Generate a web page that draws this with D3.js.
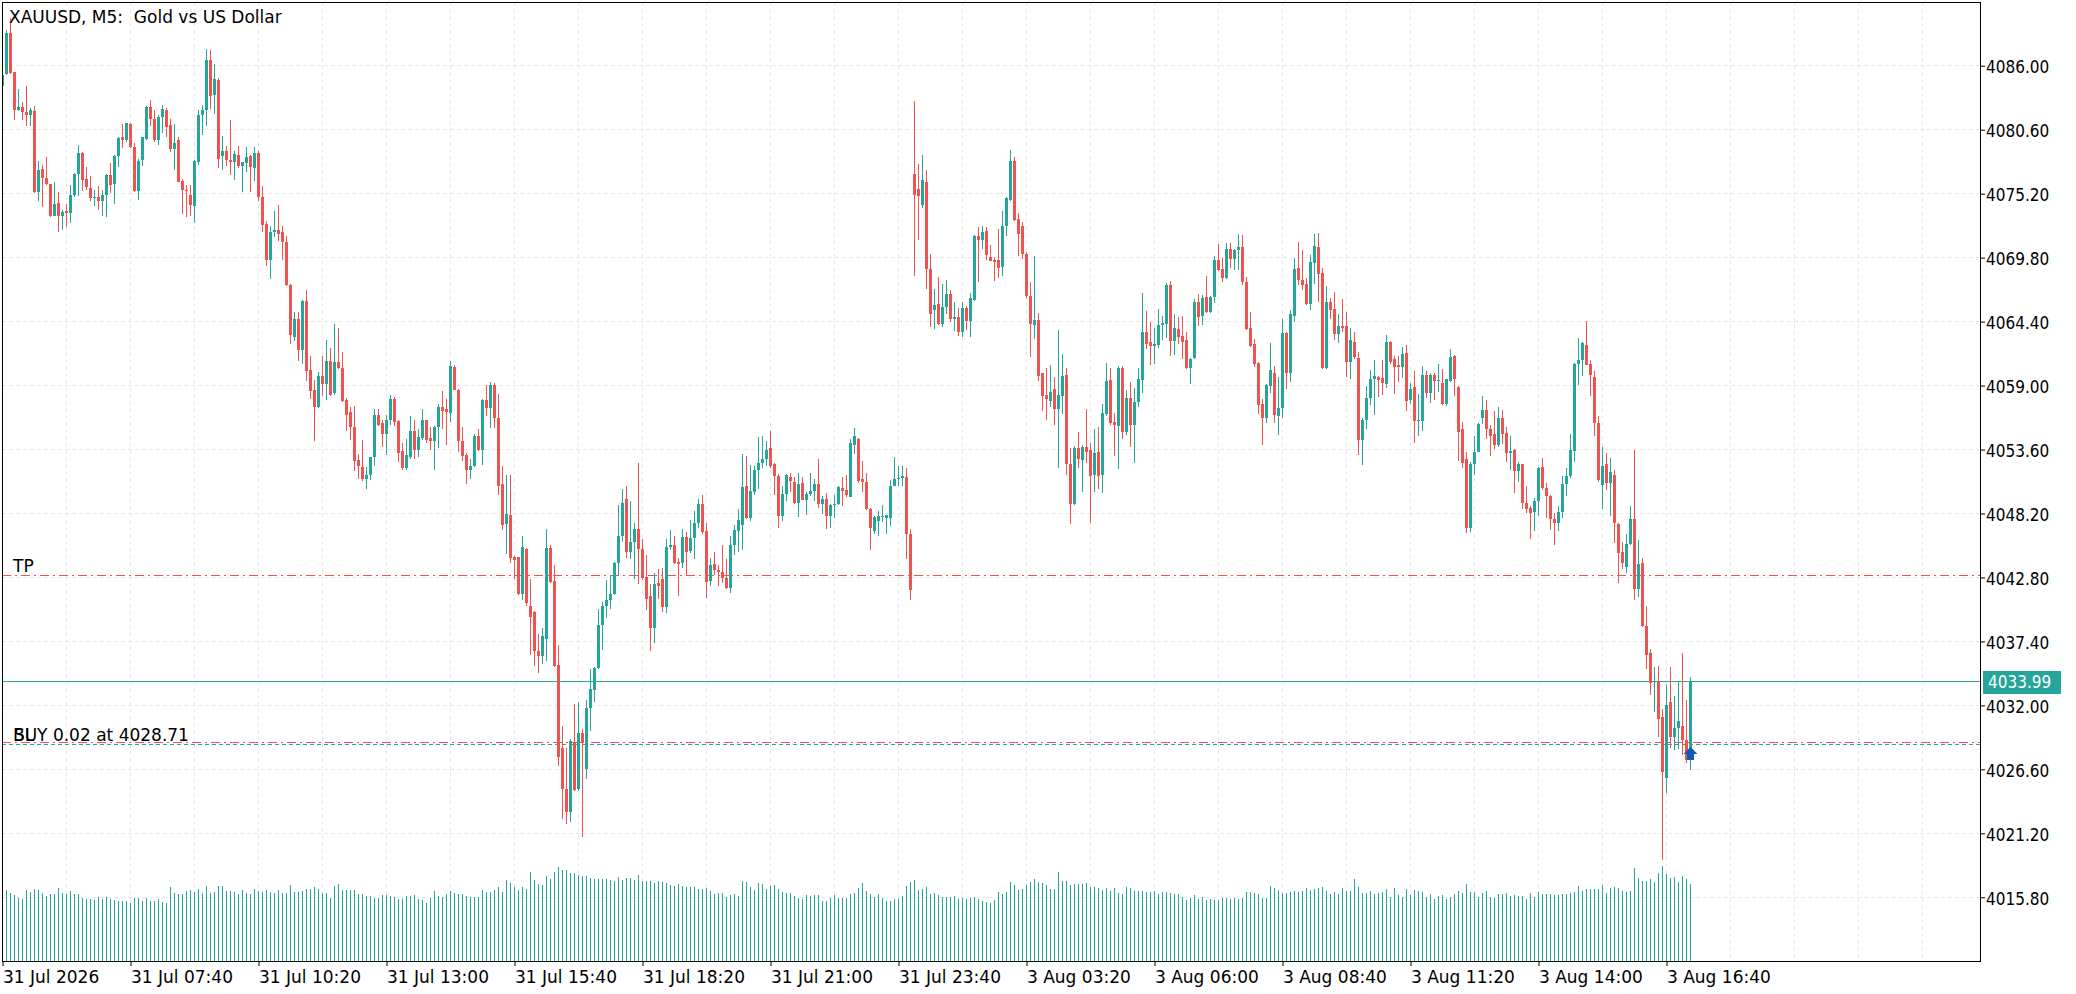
<!DOCTYPE html>
<html>
<head>
<meta charset="utf-8">
<title>XAUUSD M5</title>
<script src="https://cdn.jsdelivr.net/npm/d3@7"></script>
<style>
  html, body { margin: 0; padding: 0; background: #fff; }
  svg { display: block; }
  text { font-family: "DejaVu Sans", sans-serif; font-size: 17px; fill: #000; }
</style>
</head>
<body>
<div id="chart"></div>
<script>
// chart header + levels
const title = "XAUUSD, M5:  Gold vs US Dollar";
const bidPrice = 4033.99;
const tpPrice = 4042.95;
const slPrice = 4028.8;
const openPrice = 4028.71;
const orderLabel = "BUY 0.02 at 4028.71";

// axis labels
const priceTicks = [4015.8, 4021.2, 4026.6, 4032.0, 4037.4, 4042.8, 4048.2, 4053.6, 4059.0, 4064.4, 4069.8, 4075.2, 4080.6, 4086.0];
const timeTickBars = [0, 32, 64, 96, 128, 160, 192, 224, 256, 288, 320, 352, 384, 416];
const timeLabels = ["31 Jul 2026", "31 Jul 07:40", "31 Jul 10:20", "31 Jul 13:00", "31 Jul 15:40", "31 Jul 18:20",
  "31 Jul 21:00", "31 Jul 23:40", "3 Aug 03:20", "3 Aug 06:00", "3 Aug 08:40", "3 Aug 11:20", "3 Aug 14:00", "3 Aug 16:40"];

// M5 bars, oldest first
const opens = [
  4084.3, 4085.3, 4088.76, 4085.44, 4082.29, 4082.48, 4082.1, 4081.87, 4082.2, 4075.31,
  4077.3, 4076.5, 4076.0, 4073.34, 4074.4, 4073.3, 4073.7, 4073.55, 4075.1, 4076.9,
  4078.66, 4076.4, 4075.7, 4074.86, 4074.9, 4074.55, 4075.1, 4076.75, 4076.0, 4078.4,
  4079.95, 4079.7, 4081.1, 4079.1, 4075.4, 4078.0, 4079.8, 4082.5, 4081.5, 4079.76,
  4081.67, 4082.3, 4081.0, 4079.0, 4079.76, 4076.3, 4075.5, 4075.1, 4074.2, 4077.9,
  4081.87, 4082.3, 4086.5, 4083.5, 4084.8, 4078.4, 4078.83, 4078.0, 4077.84, 4078.5,
  4077.5, 4077.8, 4078.4, 4077.4, 4078.6, 4074.9, 4072.6, 4069.57, 4071.94, 4072.1,
  4071.97, 4071.1, 4067.52, 4063.1, 4064.65, 4062.04, 4066.1, 4060.3, 4058.6, 4057.17,
  4059.8, 4059.17, 4061.1, 4058.4, 4061.0, 4060.5, 4057.8, 4056.8, 4055.5, 4052.7,
  4052.1, 4051.07, 4051.41, 4052.98, 4056.55, 4055.8, 4054.9, 4056.13, 4057.9, 4056.0,
  4053.5, 4052.0, 4053.0, 4055.15, 4053.6, 4054.6, 4056.05, 4054.6, 4054.36, 4055.5,
  4057.17, 4057.06, 4056.7, 4060.6, 4058.66, 4054.36, 4053.1, 4051.91, 4052.2, 4054.78,
  4053.6, 4057.8, 4057.1, 4059.08, 4056.27, 4050.7, 4047.3, 4048.1, 4044.5, 4044.5,
  4041.37, 4045.2, 4040.4, 4039.9, 4036.6, 4036.16, 4037.6, 4045.3, 4042.5, 4035.4,
  4028.4, 4024.9, 4023.03, 4028.8, 4024.9, 4029.7, 4026.66, 4031.8, 4033.3, 4035.18,
  4038.75, 4040.38, 4040.9, 4041.37, 4044.0, 4046.29, 4049.4, 4044.94, 4045.8, 4046.93,
  4045.2, 4042.8, 4041.2, 4038.55, 4042.3, 4042.7, 4040.3, 4045.4, 4045.5, 4044.1,
  4043.98, 4046.2, 4045.0, 4046.09, 4047.36, 4049.04, 4046.7, 4042.5, 4043.9, 4043.42,
  4043.3, 4042.77, 4041.87, 4045.5, 4046.7, 4047.2, 4050.56, 4047.8, 4050.0, 4051.91,
  4052.42, 4052.76, 4053.74, 4052.4, 4051.4, 4048.0, 4049.86, 4051.3, 4050.9, 4049.1,
  4050.8, 4049.38, 4049.86, 4050.14, 4050.73, 4048.96, 4049.44, 4047.98, 4048.88, 4049.0,
  4050.31, 4050.2, 4049.6, 4054.0, 4054.53, 4051.07, 4050.87, 4048.6, 4046.7, 4047.6,
  4047.9, 4047.8, 4047.8, 4050.56, 4051.07, 4051.21, 4051.3, 4046.5, 4076.89, 4075.62,
  4074.22, 4076.18, 4068.87, 4065.4, 4065.9, 4064.23, 4065.6, 4066.7, 4064.65, 4064.8,
  4063.5, 4065.55, 4064.43, 4066.26, 4071.66, 4071.26, 4072.08, 4069.86, 4069.63, 4069.63,
  4068.97, 4072.5, 4074.7, 4077.98, 4073.1, 4072.44, 4070.14, 4066.6, 4064.1, 4064.51,
  4060.04, 4058.18, 4057.71, 4058.69, 4057.0, 4058.13, 4059.88, 4052.4, 4049.0, 4053.69,
  4052.7, 4053.83, 4053.55, 4051.43, 4053.4, 4051.43, 4056.58, 4059.45, 4055.93, 4055.6,
  4060.46, 4055.09, 4057.99, 4055.65, 4057.57, 4059.48, 4063.56, 4062.69, 4062.35, 4062.4,
  4064.09, 4064.2, 4067.49, 4062.77, 4063.76, 4063.19, 4062.83, 4060.46, 4061.31, 4066.06,
  4064.88, 4066.48, 4065.24, 4066.48, 4069.57, 4068.82, 4068.06, 4070.5, 4069.66, 4070.42,
  4070.67, 4067.77, 4063.84, 4062.49, 4060.88, 4057.43, 4056.3, 4059.0, 4060.1, 4056.44,
  4057.09, 4063.42, 4060.04, 4064.88, 4068.9, 4067.88, 4067.55, 4065.86, 4069.38, 4070.7,
  4068.48, 4060.46, 4066.06, 4065.44, 4063.33, 4064.04, 4064.0, 4061.0, 4062.71, 4061.31,
  4054.42, 4056.08, 4057.99, 4059.59, 4059.76, 4059.62, 4059.17, 4062.71, 4061.23, 4060.71,
  4060.56, 4061.79, 4057.79, 4058.86, 4056.0, 4056.0, 4059.88, 4058.4, 4059.85, 4059.39,
  4059.23, 4057.48, 4059.39, 4061.48, 4058.86, 4055.33, 4052.78, 4046.96, 4052.41, 4053.42,
  4056.25, 4056.93, 4055.33, 4054.87, 4053.95, 4056.25, 4054.96, 4053.33, 4053.54, 4051.79,
  4052.35, 4049.12, 4048.66, 4048.32, 4049.24, 4052.1, 4050.35, 4049.7, 4047.7, 4047.4,
  4048.35, 4050.72, 4051.33, 4053.48, 4060.86, 4061.17, 4062.46, 4060.8, 4059.73, 4055.88,
  4050.62, 4052.35, 4050.78, 4051.48, 4047.34, 4044.93, 4043.64, 4045.64, 4047.7, 4041.8,
  4044.04, 4038.72, 4036.42, 4033.95, 4033.95, 4031.04, 4025.9, 4032.32, 4029.35, 4030.11,
  4030.27, 4029.1, 4027.35
];
const highs = [
  4085.5, 4089.04, 4090.0, 4085.5, 4084.06, 4082.9, 4084.26, 4082.4, 4082.57, 4077.93,
  4077.59, 4078.27, 4076.0, 4076.21, 4075.37, 4073.85, 4074.35, 4075.96, 4076.97, 4079.33,
  4078.7, 4077.48, 4076.66, 4075.5, 4075.88, 4075.5, 4076.9, 4077.79, 4078.5, 4080.0,
  4081.08, 4081.2, 4081.2, 4079.47, 4078.1, 4080.0, 4082.6, 4083.13, 4082.29, 4081.8,
  4082.71, 4082.4, 4081.53, 4081.08, 4080.0, 4076.4, 4075.93, 4075.96, 4078.0, 4082.29,
  4082.71, 4087.43, 4087.35, 4086.17, 4084.95, 4080.04, 4079.19, 4081.44, 4078.77, 4079.19,
  4077.9, 4079.11, 4078.5, 4079.11, 4078.8, 4075.88, 4072.87, 4072.44, 4073.71, 4074.27,
  4072.44, 4071.66, 4067.6, 4065.22, 4065.22, 4066.26, 4067.1, 4061.53, 4059.43, 4060.15,
  4061.53, 4062.88, 4062.18, 4064.23, 4063.87, 4061.84, 4057.96, 4057.17, 4057.31, 4053.23,
  4054.44, 4052.14, 4053.0, 4056.98, 4057.03, 4056.1, 4056.55, 4058.24, 4058.0, 4056.1,
  4054.16, 4054.5, 4056.41, 4056.07, 4055.29, 4057.06, 4056.1, 4055.48, 4055.6, 4057.48,
  4058.58, 4057.88, 4061.05, 4060.77, 4058.7, 4055.51, 4053.32, 4052.76, 4054.9, 4055.34,
  4057.9, 4059.08, 4059.28, 4059.2, 4058.3, 4052.19, 4051.41, 4051.49, 4044.6, 4044.55,
  4046.34, 4045.25, 4042.63, 4040.0, 4037.99, 4038.55, 4046.85, 4045.58, 4043.81, 4037.06,
  4030.26, 4028.43, 4029.13, 4032.08, 4032.3, 4029.98, 4032.44, 4035.04, 4035.2, 4040.1,
  4040.72, 4042.55, 4042.97, 4044.1, 4048.9, 4050.23, 4050.56, 4049.24, 4047.41, 4052.42,
  4046.01, 4044.66, 4042.21, 4043.19, 4043.53, 4043.62, 4046.06, 4046.77, 4046.29, 4044.4,
  4046.85, 4046.63, 4047.61, 4048.4, 4049.44, 4049.8, 4047.36, 4044.46, 4044.97, 4043.84,
  4045.5, 4044.32, 4046.34, 4047.19, 4048.54, 4053.26, 4053.09, 4052.28, 4052.25, 4054.64,
  4054.72, 4054.3, 4055.15, 4052.5, 4051.5, 4050.56, 4051.5, 4051.63, 4051.3, 4051.63,
  4051.3, 4050.0, 4051.58, 4051.07, 4052.84, 4049.66, 4049.94, 4048.96, 4049.72, 4050.5,
  4051.3, 4051.41, 4054.53, 4055.43, 4054.6, 4052.62, 4051.63, 4048.7, 4048.0, 4048.4,
  4048.88, 4048.1, 4051.01, 4052.98, 4052.2, 4052.2, 4052.0, 4046.91, 4082.99, 4077.73,
  4078.49, 4077.17, 4070.14, 4067.18, 4068.17, 4067.61, 4067.94, 4067.1, 4066.03, 4065.55,
  4066.03, 4065.75, 4066.82, 4071.7, 4072.36, 4072.5, 4072.36, 4070.9, 4069.86, 4072.25,
  4073.77, 4074.9, 4078.91, 4078.29, 4073.57, 4072.81, 4070.25, 4067.72, 4069.91, 4065.16,
  4060.1, 4060.52, 4060.72, 4059.76, 4063.7, 4061.64, 4060.46, 4053.69, 4053.9, 4055.09,
  4053.97, 4057.0, 4054.14, 4055.32, 4055.51, 4057.43, 4060.88, 4060.46, 4056.67, 4060.66,
  4060.66, 4058.61, 4059.34, 4058.78, 4060.52, 4066.79, 4065.3, 4064.37, 4063.84, 4065.44,
  4064.88, 4067.69, 4067.83, 4065.02, 4064.79, 4064.88, 4063.56, 4061.3, 4066.28, 4066.71,
  4066.62, 4068.25, 4066.57, 4069.94, 4070.93, 4069.8, 4071.01, 4071.01, 4070.56, 4071.77,
  4071.68, 4068.2, 4065.24, 4062.91, 4061.0, 4057.85, 4059.1, 4062.63, 4060.66, 4059.73,
  4064.6, 4063.53, 4065.36, 4069.8, 4071.12, 4070.45, 4068.06, 4070.02, 4071.77, 4071.85,
  4068.9, 4067.41, 4066.37, 4066.9, 4065.02, 4066.28, 4065.22, 4063.9, 4063.56, 4061.87,
  4056.24, 4058.97, 4060.3, 4061.14, 4059.8, 4061.14, 4063.26, 4062.77, 4061.48, 4061.48,
  4062.25, 4062.46, 4059.23, 4060.25, 4058.25, 4060.65, 4060.25, 4060.03, 4060.03, 4060.8,
  4060.4, 4059.57, 4062.09, 4061.54, 4058.96, 4055.94, 4053.39, 4052.56, 4054.71, 4055.85,
  4058.1, 4057.79, 4055.64, 4056.87, 4057.17, 4056.93, 4055.48, 4054.78, 4053.64, 4052.56,
  4052.41, 4050.56, 4048.87, 4049.49, 4052.16, 4052.87, 4050.78, 4049.79, 4048.26, 4048.87,
  4051.33, 4052.04, 4054.87, 4060.9, 4063.02, 4062.71, 4064.49, 4061.17, 4060.19, 4056.41,
  4053.79, 4053.33, 4052.87, 4051.85, 4047.4, 4045.8, 4046.47, 4048.87, 4053.58, 4045.95,
  4044.47, 4040.35, 4036.72, 4035.25, 4035.34, 4031.71, 4033.74, 4035.28, 4032.82, 4033.96,
  4036.44, 4032.42, 4034.42
];
const lows = [
  4084.2, 4085.24, 4085.3, 4081.44, 4082.15, 4081.39, 4080.88, 4080.94, 4075.25, 4074.55,
  4074.05, 4075.9, 4073.23, 4073.3, 4071.94, 4072.11, 4072.4, 4072.7, 4074.9, 4075.03,
  4075.4, 4075.48, 4074.61, 4074.2, 4073.85, 4073.34, 4073.2, 4075.26, 4074.36, 4077.42,
  4079.05, 4079.6, 4079.05, 4075.35, 4074.64, 4077.5, 4079.7, 4080.88, 4079.53, 4079.33,
  4080.32, 4079.95, 4078.69, 4077.23, 4076.15, 4073.51, 4073.2, 4073.29, 4072.73, 4077.59,
  4080.18, 4080.94, 4082.34, 4081.95, 4077.37, 4077.23, 4077.51, 4076.8, 4076.32, 4077.4,
  4075.31, 4077.0, 4075.31, 4076.24, 4074.55, 4071.94, 4069.07, 4068.03, 4071.52, 4071.18,
  4069.57, 4067.44, 4062.54, 4062.74, 4061.05, 4060.86, 4059.37, 4057.9, 4054.3, 4057.1,
  4058.1, 4057.76, 4058.1, 4058.24, 4060.4, 4057.6, 4055.15, 4054.44, 4051.77, 4051.13,
  4050.98, 4050.23, 4051.0, 4052.25, 4055.55, 4053.8, 4053.1, 4055.7, 4055.57, 4052.53,
  4051.91, 4051.9, 4052.8, 4052.76, 4052.98, 4054.44, 4054.16, 4053.54, 4051.91, 4053.74,
  4055.29, 4054.02, 4055.91, 4058.6, 4053.38, 4052.62, 4050.65, 4051.15, 4052.1, 4053.5,
  4052.33, 4056.41, 4055.43, 4055.43, 4049.8, 4046.79, 4044.74, 4044.04, 4042.63, 4041.3,
  4040.89, 4040.38, 4036.22, 4035.32, 4034.7, 4035.52, 4035.74, 4042.3, 4035.25, 4026.88,
  4022.44, 4022.02, 4022.16, 4024.75, 4024.8, 4020.92, 4025.81, 4029.83, 4032.28, 4035.1,
  4036.67, 4039.4, 4040.1, 4041.3, 4042.97, 4045.78, 4044.4, 4044.38, 4042.69, 4042.21,
  4042.6, 4040.04, 4036.58, 4037.29, 4040.94, 4039.88, 4039.76, 4045.1, 4043.9, 4041.23,
  4043.62, 4042.97, 4044.9, 4044.32, 4046.99, 4046.5, 4041.08, 4042.07, 4042.97, 4042.07,
  4042.35, 4041.79, 4041.51, 4044.66, 4044.94, 4045.08, 4047.7, 4047.55, 4049.72, 4050.28,
  4052.0, 4052.25, 4052.05, 4049.72, 4046.99, 4047.55, 4049.24, 4050.0, 4049.0, 4047.92,
  4049.3, 4048.03, 4049.7, 4049.24, 4048.68, 4048.12, 4046.91, 4046.99, 4047.83, 4048.9,
  4048.82, 4049.6, 4049.55, 4053.18, 4050.79, 4050.0, 4048.5, 4045.08, 4046.43, 4046.29,
  4047.47, 4046.43, 4047.13, 4050.5, 4050.56, 4050.56, 4044.32, 4040.89, 4068.28, 4071.32,
  4073.99, 4067.18, 4063.92, 4063.81, 4064.1, 4063.92, 4065.08, 4064.37, 4063.58, 4063.22,
  4063.08, 4063.67, 4063.08, 4066.12, 4067.72, 4070.56, 4069.63, 4069.49, 4067.8, 4068.08,
  4068.28, 4071.6, 4074.6, 4072.87, 4069.91, 4069.69, 4066.4, 4061.42, 4062.94, 4059.39,
  4056.86, 4056.08, 4057.2, 4055.65, 4052.02, 4056.58, 4051.43, 4047.3, 4048.9, 4052.08,
  4050.03, 4052.5, 4047.38, 4050.03, 4050.25, 4049.92, 4056.44, 4055.68, 4053.07, 4051.99,
  4054.47, 4054.81, 4053.83, 4052.42, 4057.2, 4058.35, 4062.12, 4060.74, 4060.86, 4062.15,
  4062.85, 4062.99, 4061.5, 4061.56, 4062.49, 4061.28, 4060.4, 4059.11, 4061.2, 4064.03,
  4064.09, 4065.1, 4065.16, 4066.0, 4068.7, 4067.77, 4068.0, 4068.96, 4068.76, 4068.76,
  4067.49, 4063.7, 4062.26, 4060.58, 4056.58, 4054.0, 4055.88, 4058.41, 4055.88, 4054.84,
  4056.24, 4058.69, 4059.31, 4064.37, 4067.47, 4067.07, 4065.8, 4065.38, 4067.55, 4066.06,
  4060.4, 4060.38, 4064.65, 4062.85, 4062.63, 4063.53, 4059.68, 4059.59, 4061.28, 4053.12,
  4052.28, 4055.37, 4057.34, 4056.5, 4058.04, 4058.18, 4058.77, 4060.86, 4058.25, 4059.33,
  4059.63, 4056.87, 4057.48, 4054.16, 4054.71, 4055.18, 4057.94, 4057.54, 4057.79, 4058.47,
  4057.33, 4057.24, 4059.3, 4058.1, 4052.62, 4052.01, 4046.57, 4046.66, 4051.42, 4053.39,
  4055.79, 4054.5, 4053.02, 4053.64, 4053.79, 4054.1, 4052.56, 4051.85, 4049.95, 4050.87,
  4048.56, 4048.26, 4046.04, 4046.72, 4047.95, 4050.2, 4047.8, 4046.81, 4045.55, 4046.72,
  4047.8, 4049.64, 4051.18, 4052.56, 4059.08, 4059.79, 4060.7, 4058.16, 4054.71, 4050.9,
  4048.56, 4050.19, 4047.95, 4045.73, 4042.35, 4043.49, 4043.18, 4045.55, 4040.88, 4041.18,
  4038.6, 4035.03, 4032.88, 4031.41, 4029.35, 4018.98, 4024.64, 4028.42, 4028.27, 4028.33,
  4027.81, 4027.1, 4026.58
];
const closes = [
  4085.2, 4088.76, 4085.38, 4082.29, 4082.48, 4082.06, 4081.87, 4082.23, 4075.31, 4077.23,
  4076.49, 4075.99, 4073.34, 4074.35, 4073.29, 4073.68, 4073.55, 4075.12, 4076.89, 4078.66,
  4076.38, 4075.73, 4074.86, 4074.9, 4074.55, 4075.12, 4076.75, 4075.96, 4078.41, 4079.9,
  4079.7, 4081.16, 4079.1, 4075.4, 4077.98, 4079.95, 4082.51, 4081.5, 4079.76, 4081.67,
  4082.34, 4080.8, 4079.0, 4079.47, 4076.21, 4075.48, 4075.4, 4074.22, 4077.93, 4081.87,
  4082.29, 4086.51, 4083.47, 4084.9, 4078.15, 4078.83, 4078.01, 4077.84, 4078.58, 4077.51,
  4077.84, 4078.27, 4077.42, 4078.63, 4074.92, 4072.53, 4069.57, 4071.94, 4072.11, 4071.83,
  4071.09, 4067.52, 4063.25, 4064.65, 4062.04, 4066.12, 4060.21, 4058.52, 4057.17, 4059.79,
  4059.17, 4061.11, 4058.18, 4060.97, 4060.49, 4057.68, 4056.55, 4055.48, 4052.62, 4052.25,
  4051.07, 4051.41, 4052.98, 4056.55, 4055.63, 4054.95, 4056.13, 4057.9, 4055.9, 4053.32,
  4052.0, 4053.1, 4055.15, 4053.6, 4054.67, 4056.05, 4054.44, 4054.36, 4055.51, 4057.17,
  4056.89, 4056.75, 4060.69, 4058.66, 4054.3, 4053.04, 4051.91, 4052.25, 4054.78, 4053.54,
  4057.82, 4057.12, 4059.08, 4056.27, 4050.56, 4047.19, 4048.12, 4044.46, 4044.3, 4041.37,
  4045.39, 4040.61, 4039.45, 4036.58, 4036.16, 4037.85, 4045.3, 4042.41, 4035.32, 4027.64,
  4024.91, 4023.03, 4029.0, 4024.86, 4029.69, 4028.85, 4031.8, 4033.35, 4035.18, 4038.75,
  4040.38, 4040.86, 4041.37, 4043.98, 4046.29, 4049.1, 4044.94, 4045.78, 4046.93, 4045.22,
  4042.72, 4040.94, 4038.55, 4042.21, 4042.07, 4040.33, 4045.39, 4045.5, 4043.98, 4043.9,
  4046.23, 4044.97, 4046.09, 4047.36, 4049.04, 4046.63, 4042.41, 4043.81, 4043.42, 4043.3,
  4042.77, 4041.87, 4045.5, 4046.77, 4047.69, 4050.42, 4047.78, 4050.09, 4051.91, 4052.42,
  4052.76, 4053.6, 4052.25, 4051.35, 4047.98, 4049.86, 4051.41, 4050.93, 4049.1, 4050.7,
  4049.38, 4049.86, 4050.14, 4050.73, 4048.96, 4049.44, 4047.98, 4048.88, 4049.04, 4050.45,
  4050.14, 4049.72, 4054.11, 4054.78, 4050.93, 4050.84, 4048.6, 4046.99, 4047.89, 4047.95,
  4048.0, 4048.05, 4050.56, 4051.07, 4051.21, 4051.35, 4046.43, 4041.73, 4075.12, 4074.98,
  4076.38, 4068.87, 4065.08, 4065.83, 4064.23, 4065.64, 4066.76, 4064.65, 4064.8, 4063.5,
  4065.55, 4064.43, 4066.4, 4071.66, 4071.26, 4071.97, 4070.05, 4069.55, 4069.41, 4068.93,
  4072.5, 4074.83, 4077.98, 4073.01, 4071.8, 4070.11, 4066.54, 4064.2, 4064.51, 4059.82,
  4058.13, 4057.85, 4058.49, 4057.0, 4058.18, 4059.82, 4052.36, 4049.0, 4053.69, 4052.78,
  4053.83, 4053.4, 4051.37, 4053.29, 4051.37, 4056.67, 4059.39, 4055.82, 4055.65, 4060.46,
  4055.09, 4057.99, 4055.65, 4057.57, 4059.54, 4063.56, 4062.49, 4062.35, 4062.49, 4064.09,
  4064.26, 4067.49, 4062.77, 4063.84, 4063.11, 4062.69, 4060.46, 4061.22, 4066.06, 4064.82,
  4066.37, 4065.24, 4066.51, 4069.57, 4068.76, 4068.06, 4070.5, 4069.66, 4070.42, 4070.67,
  4067.75, 4063.81, 4062.35, 4060.8, 4057.37, 4056.3, 4059.03, 4060.3, 4056.53, 4057.09,
  4063.42, 4060.04, 4065.02, 4068.82, 4067.92, 4067.49, 4065.86, 4069.43, 4070.78, 4068.45,
  4060.46, 4066.06, 4065.38, 4063.33, 4064.04, 4063.9, 4061.0, 4062.83, 4061.42, 4054.42,
  4056.08, 4057.99, 4059.59, 4059.82, 4059.45, 4059.2, 4062.71, 4061.02, 4060.56, 4060.56,
  4061.69, 4057.73, 4058.71, 4056.0, 4056.1, 4059.88, 4058.4, 4059.88, 4059.39, 4059.48,
  4057.48, 4059.54, 4061.42, 4059.57, 4055.08, 4052.47, 4046.96, 4052.41, 4053.42, 4055.79,
  4056.93, 4055.33, 4054.78, 4053.95, 4056.25, 4054.93, 4053.33, 4053.48, 4051.79, 4052.35,
  4049.12, 4048.56, 4048.26, 4049.24, 4052.04, 4050.32, 4049.7, 4047.7, 4047.4, 4048.35,
  4050.72, 4051.33, 4053.54, 4060.86, 4061.17, 4062.56, 4060.77, 4059.85, 4055.85, 4051.02,
  4052.25, 4050.78, 4051.7, 4047.4, 4044.87, 4044.01, 4045.64, 4047.7, 4041.8, 4043.95,
  4038.72, 4036.26, 4033.9, 4034.1, 4030.88, 4026.34, 4032.02, 4029.35, 4030.11, 4030.64,
  4029.04, 4027.35, 4033.99
];
// tick volumes
const volumes = [
  1775, 1775, 1708, 1650, 1583, 1550, 1775, 1717, 1792, 1775,
  1708, 1633, 1675, 1675, 1825, 1708, 1675, 1750, 1683, 1675,
  1567, 1550, 1550, 1533, 1600, 1550, 1600, 1550, 1533, 1508,
  1508, 1508, 1458, 1567, 1575, 1492, 1575, 1508, 1508, 1542,
  1483, 1458, 1842, 1692, 1683, 1683, 1742, 1775, 1717, 1800,
  1708, 1875, 1708, 1725, 1875, 1875, 1750, 1750, 1733, 1675,
  1783, 1708, 1675, 1808, 1750, 1717, 1767, 1733, 1692, 1767,
  1692, 1692, 1900, 1717, 1717, 1742, 1800, 1800, 1842, 1808,
  1700, 1708, 1583, 1875, 1925, 1775, 1775, 1767, 1775, 1675,
  1675, 1633, 1633, 1583, 1567, 1642, 1658, 1625, 1592, 1550,
  1558, 1633, 1625, 1658, 1542, 1525, 1458, 1583, 1758, 1633,
  1608, 1675, 1750, 1700, 1675, 1667, 1633, 1600, 1608, 1600,
  1775, 1725, 1733, 1775, 1858, 1717, 2025, 1950, 1858, 1775,
  1842, 1800, 2217, 2025, 1925, 1908, 2133, 2042, 2217, 2358,
  2275, 2275, 2208, 2192, 2150, 2125, 2125, 2067, 2050, 2042,
  2042, 2042, 2017, 2008, 2108, 2025, 2067, 2067, 2025, 2150,
  2008, 2000, 2000, 1958, 2000, 1983, 1942, 1900, 1875, 1917,
  1883, 1858, 1858, 1842, 1800, 1800, 1817, 1758, 1683, 1708,
  1692, 1608, 1658, 1675, 1625, 2000, 1983, 1858, 1775, 1942,
  1917, 1800, 1875, 1900, 1792, 1725, 1692, 1692, 1625, 1567,
  1550, 1650, 1625, 1642, 1650, 1508, 1508, 1567, 1642, 1583,
  1583, 1583, 1675, 1708, 1817, 1942, 1758, 1675, 1608, 1667,
  1567, 1508, 1508, 1550, 1550, 1625, 1875, 1983, 2025, 1775,
  1792, 1842, 1667, 1692, 1650, 1608, 1608, 1608, 1625, 1550,
  1567, 1550, 1567, 1608, 1542, 1500, 1483, 1442, 1525, 1717,
  1667, 1717, 1967, 1900, 1775, 1800, 1900, 1967, 2050, 1967,
  1942, 1900, 1792, 1792, 2217, 2000, 2008, 1900, 1917, 1925,
  1925, 1942, 1858, 1842, 1817, 1775, 1817, 1750, 1833, 1692,
  1675, 1858, 1825, 1758, 1758, 1758, 1733, 1733, 1758, 1667,
  1733, 1733, 1708, 1667, 1667, 1592, 1525, 1567, 1650, 1542,
  1608, 1525, 1542, 1525, 1525, 1567, 1583, 1550, 1567, 1550,
  1583, 1717, 1717, 1708, 1675, 1583, 1583, 1875, 1817, 1775,
  1692, 1692, 1717, 1758, 1733, 1750, 1817, 1775, 1800, 1817,
  1858, 1758, 1667, 1717, 1667, 1817, 1758, 1758, 2050, 1842,
  1692, 1708, 1758, 1667, 1708, 1720, 1800, 1608, 1833, 1650,
  1608, 1800, 1650, 1775, 1758, 1733, 1608, 1675, 1550, 1633,
  1650, 1550, 1608, 1667, 1750, 1708, 1925, 1733, 1717, 1608,
  1708, 1750, 1608, 1583, 1675, 1675, 1692, 1633, 1650, 1625,
  1625, 1550, 1692, 1608, 1717, 1675, 1675, 1675, 1650, 1650,
  1675, 1667, 1692, 1733, 1875, 1750, 1800, 1800, 1800, 1800,
  1900, 1692, 1817, 1842, 1833, 1750, 1733, 1750, 2333, 2083,
  2000, 2000, 2050, 1983, 2208, 2375, 2175, 2083, 2092, 1967,
  2125, 2050, 1925
];

const W = 2076, H = 994;
const plot = { left: 2, top: 2, right: 1980, bottom: 961 };
const upColor = "#26a69a", downColor = "#ef5350";
const numFont = "'DejaVu Sans Condensed', 'DejaVu Sans', sans-serif";

const bars = closes.map((c, i) => ({ i, o: opens[i], h: highs[i], l: lows[i], c, v: volumes[i] }));

const x = d3.scaleLinear().domain([0, 422]).range([2.5, 1690.5]);
const y = d3.scaleLinear().domain([4010.42, 4091.38]).range([plot.bottom, plot.top]);
const yVol = d3.scaleLinear().domain([0, 2500]).range([plot.bottom, plot.bottom - 100]);
const crisp = v => Math.round(v - 0.5) + 0.5;

const svg = d3.select("#chart").append("svg")
  .attr("width", W)
  .attr("height", H);

svg.append("rect").attr("width", W).attr("height", H).attr("fill", "#fff");

svg.append("defs").append("clipPath").attr("id", "plot-clip")
  .append("rect")
  .attr("x", plot.left + 1).attr("y", plot.top + 1)
  .attr("width", plot.right - plot.left - 1).attr("height", plot.bottom - plot.top - 1);

// grid
const grid = svg.append("g").attr("clip-path", "url(#plot-clip)");
grid.selectAll(".vgrid")
  .data(d3.range(16, 496, 16))
  .enter().append("line")
  .attr("x1", d => x(d)).attr("x2", d => x(d))
  .attr("y1", plot.top).attr("y2", plot.bottom)
  .attr("stroke", "#e8e8e8").attr("stroke-dasharray", "4,3");
grid.selectAll(".hgrid")
  .data(priceTicks)
  .enter().append("line")
  .attr("x1", plot.left).attr("x2", plot.right)
  .attr("y1", d => crisp(y(d))).attr("y2", d => crisp(y(d)))
  .attr("stroke", "#e8e8e8").attr("stroke-dasharray", "4,3");

const marks = svg.append("g").attr("clip-path", "url(#plot-clip)");

// volume
marks.selectAll(".vol")
  .data(bars)
  .enter().append("rect")
  .attr("x", d => x(d.i) - 0.5)
  .attr("width", 1)
  .attr("y", d => Math.round(yVol(d.v)))
  .attr("height", d => plot.bottom - Math.round(yVol(d.v)))
  .attr("fill", upColor);

// order levels
marks.append("line")
  .attr("x1", plot.left).attr("x2", plot.right)
  .attr("y1", crisp(y(tpPrice))).attr("y2", crisp(y(tpPrice)))
  .attr("stroke", downColor).attr("stroke-dasharray", "9,4,2,4");
marks.append("line")
  .attr("x1", plot.left).attr("x2", plot.right)
  .attr("y1", crisp(y(slPrice)) - 1).attr("y2", crisp(y(slPrice)) - 1)
  .attr("stroke", downColor).attr("stroke-dasharray", "9,4,2,4");
marks.append("line")
  .attr("x1", plot.left).attr("x2", plot.right)
  .attr("y1", crisp(y(openPrice))).attr("y2", crisp(y(openPrice)))
  .attr("stroke", upColor).attr("stroke-dasharray", "4,3");
marks.append("line")
  .attr("x1", plot.left).attr("x2", plot.right)
  .attr("y1", crisp(y(bidPrice))).attr("y2", crisp(y(bidPrice)))
  .attr("stroke", upColor);

// candles
const candle = marks.selectAll(".candle")
  .data(bars)
  .enter().append("g")
  .attr("fill", d => d.c >= d.o ? upColor : downColor);
candle.append("rect")
  .attr("x", d => x(d.i) - 0.5)
  .attr("width", 1)
  .attr("y", d => Math.round(y(d.h)))
  .attr("height", d => Math.max(1, Math.round(y(d.l)) - Math.round(y(d.h))));
candle.append("rect")
  .attr("x", d => x(d.i) - 1.5)
  .attr("width", 3)
  .attr("y", d => Math.round(y(Math.max(d.o, d.c))))
  .attr("height", d => Math.max(1, Math.round(y(Math.min(d.o, d.c))) - Math.round(y(Math.max(d.o, d.c)))));

// buy arrow
const ax = x(422), ay = Math.round(y(openPrice)) + 3;
marks.append("path")
  .attr("d", `M${ax},${ay}L${ax + 7},${ay + 7}H${ax + 3.5}V${ay + 13}H${ax - 3.5}V${ay + 7}H${ax - 7}Z`)
  .attr("fill", "#0e5cb3");

// level labels (SL and BUY sit on the same price, so their labels share a spot as in the terminal)
svg.append("text").attr("x", 13).attr("y", crisp(y(tpPrice)) - 4).attr("fill", "#222").text("TP");
svg.append("text").attr("x", 13).attr("y", crisp(y(openPrice)) - 4).attr("fill", "#222").text(orderLabel);
svg.append("text").attr("x", 14).attr("y", crisp(y(openPrice)) - 4).attr("fill", "#222").text("SL");

// title
svg.append("text").attr("x", 9).attr("y", 23)
  .attr("xml:space", "preserve")
  .style("white-space", "pre")
  .text(title);

// axes
const yAxis = svg.append("g")
  .attr("transform", `translate(${plot.right},0)`)
  .call(d3.axisRight(y).tickValues(priceTicks).tickSize(5).tickPadding(1).tickFormat(d3.format(".2f")));
yAxis.select(".domain").remove();
yAxis.selectAll(".tick line").attr("stroke", "#000");
yAxis.selectAll(".tick text")
  .attr("dy", "0.4em")
  .attr("fill", "#000")
  .style("font-family", numFont)
  .style("font-size", "17px");

const xAxis = svg.append("g")
  .attr("transform", `translate(0,${plot.bottom})`)
  .call(d3.axisBottom(x).tickValues(timeTickBars).tickSize(5).tickFormat((d, i) => timeLabels[i]));
xAxis.select(".domain").remove();
xAxis.selectAll(".tick line").attr("stroke", "#000");
xAxis.selectAll(".tick text")
  .attr("text-anchor", "start")
  .attr("x", 0)
  .attr("y", 22)
  .attr("dy", 0)
  .attr("fill", "#000")
  .style("font-family", "'DejaVu Sans', sans-serif")
  .style("font-size", "17px");

// bid label
const by = y(bidPrice);
svg.append("rect")
  .attr("x", 1983).attr("y", Math.round(by) - 11)
  .attr("width", 78).attr("height", 23)
  .attr("fill", upColor);
svg.append("text")
  .attr("x", 1988).attr("y", Math.round(by) + 6)
  .style("fill", "#fff")
  .style("font-family", numFont)
  .text(d3.format(".2f")(bidPrice));

// frame
svg.append("rect")
  .attr("x", plot.left + 0.5).attr("y", plot.top + 0.5)
  .attr("width", plot.right - plot.left).attr("height", plot.bottom - plot.top)
  .attr("fill", "none").attr("stroke", "#000");
</script>
</body>
</html>
